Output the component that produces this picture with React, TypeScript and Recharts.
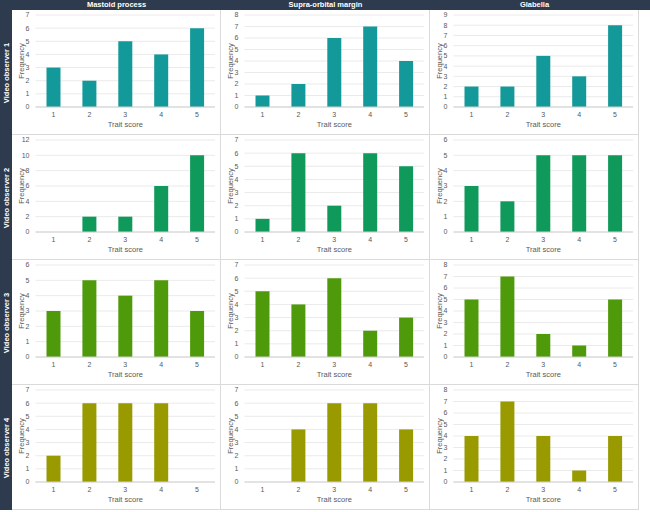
import { Bar, BarChart, CartesianGrid, Label, XAxis, YAxis } from "recharts";

const traitScores = ["1", "2", "3", "4", "5"];
const regions = ["Mastoid process", "Supra-orbital margin", "Glabella"];
const observers = ["Video observer 1", "Video observer 2", "Video observer 3", "Video observer 4"];

// frequency per trait score, one row per observer
const mastoid = [
  [3, 2, 5, 4, 6],
  [0, 2, 2, 6, 10],
  [3, 5, 4, 5, 3],
  [2, 6, 6, 6, 0],
];
const supraOrbital = [
  [1, 2, 6, 7, 4],
  [1, 6, 2, 6, 5],
  [5, 4, 6, 2, 3],
  [0, 4, 6, 6, 4],
];
const glabella = [
  [2, 2, 5, 3, 8],
  [3, 2, 5, 5, 5],
  [5, 7, 2, 1, 5],
  [4, 7, 4, 1, 4],
];

const yTicks = [
  [[0, 1, 2, 3, 4, 5, 6, 7], [0, 1, 2, 3, 4, 5, 6, 7, 8], [0, 1, 2, 3, 4, 5, 6, 7, 8, 9]],
  [[0, 2, 4, 6, 8, 10, 12], [0, 1, 2, 3, 4, 5, 6, 7], [0, 1, 2, 3, 4, 5, 6]],
  [[0, 1, 2, 3, 4, 5, 6], [0, 1, 2, 3, 4, 5, 6, 7], [0, 1, 2, 3, 4, 5, 6, 7, 8]],
  [[0, 1, 2, 3, 4, 5, 6, 7], [0, 1, 2, 3, 4, 5, 6, 7], [0, 1, 2, 3, 4, 5, 6, 7, 8]],
];

const rowColors = ["#14999A", "#0F9A5B", "#4F9A0A", "#999900"];

const FONT = "'Liberation Sans', Arial, sans-serif";
const HEADER_BG = "#2E3B4E";
const LEFT_W = 12;
const TOP_H = 10;
const COL_W = 209;
const ROW_H = 125;

function Panel({ values, ticks, color }: { values: number[]; ticks: number[]; color: string }) {
  const data = traitScores.map((s, i) => ({ score: s, freq: values[i] }));
  const tick = { fill: "#595959", fontSize: 7, fontFamily: FONT };
  return (
    <BarChart
      width={COL_W - 1}
      height={ROW_H - 1}
      data={data}
      margin={{ top: 5, right: 5, left: 0, bottom: 0 }}
    >
      <CartesianGrid vertical={false} stroke="#E4E4E4" strokeWidth={0.8} />
      <XAxis
        dataKey="score"
        height={27}
        tickLine={false}
        tickSize={2}
        tickMargin={3}
        axisLine={{ stroke: "#D0D0D0" }}
        tick={tick}
        interval={0}
      >
        <Label
          value="Trait score"
          position="insideBottom"
          offset={7}
          style={{ fill: "#595959", fontSize: 7.5, fontFamily: FONT }}
        />
      </XAxis>
      <YAxis
        width={23.5}
        domain={[0, ticks[ticks.length - 1]]}
        ticks={ticks}
        interval={0}
        axisLine={false}
        tickLine={false}
        tickSize={4}
        tickMargin={2}
        tick={tick}
      >
        <Label
          value="Frequency"
          angle={-90}
          position="insideLeft"
          offset={9}
          style={{ fill: "#595959", fontSize: 7.5, fontFamily: FONT, textAnchor: "middle" }}
        />
      </YAxis>
      <Bar dataKey="freq" fill={color} barSize={14} isAnimationActive={false} />
    </BarChart>
  );
}

export default function App() {
  const cols = [mastoid, supraOrbital, glabella];
  return (
    <div
      style={{
        position: "absolute",
        left: 0,
        top: 0,
        width: 650,
        height: 512,
        background: "#fff",
        fontFamily: FONT,
      }}
    >
      <div
        style={{ position: "absolute", left: 0, top: 0, width: 650, height: TOP_H, background: HEADER_BG }}
      />
      <div
        style={{ position: "absolute", left: 0, top: 0, width: LEFT_W, height: TOP_H + ROW_H * 4, background: HEADER_BG }}
      />
      {regions.map((r, c) => (
        <div
          key={r}
          style={{
            position: "absolute",
            left: LEFT_W + c * COL_W,
            top: 0,
            width: COL_W,
            height: TOP_H,
            lineHeight: `${TOP_H}px`,
            textAlign: "center",
            color: "#fff",
            fontWeight: "bold",
            fontSize: 7.5,
          }}
        >
          {r}
        </div>
      ))}
      {observers.map((o, r) => (
        <div
          key={o}
          style={{
            position: "absolute",
            left: LEFT_W / 2 - ROW_H / 2,
            top: TOP_H + r * ROW_H + ROW_H / 2 - 6,
            width: ROW_H,
            height: 12,
            lineHeight: "12px",
            textAlign: "center",
            color: "#fff",
            fontWeight: "bold",
            fontSize: 7.5,
            transform: "rotate(-90deg)",
          }}
        >
          {o}
        </div>
      ))}
      {observers.map((o, r) =>
        cols.map((col, c) => (
          <div
            key={`${r}-${c}`}
            style={{
              position: "absolute",
              left: LEFT_W + c * COL_W,
              top: TOP_H + r * ROW_H,
              width: COL_W,
              height: ROW_H,
              boxSizing: "border-box",
              borderRight: "1px solid #DADADA",
              borderBottom: "1px solid #DADADA",
            }}
          >
            <Panel values={col[r]} ticks={yTicks[r][c]} color={rowColors[r]} />
          </div>
        ))
      )}
    </div>
  );
}
